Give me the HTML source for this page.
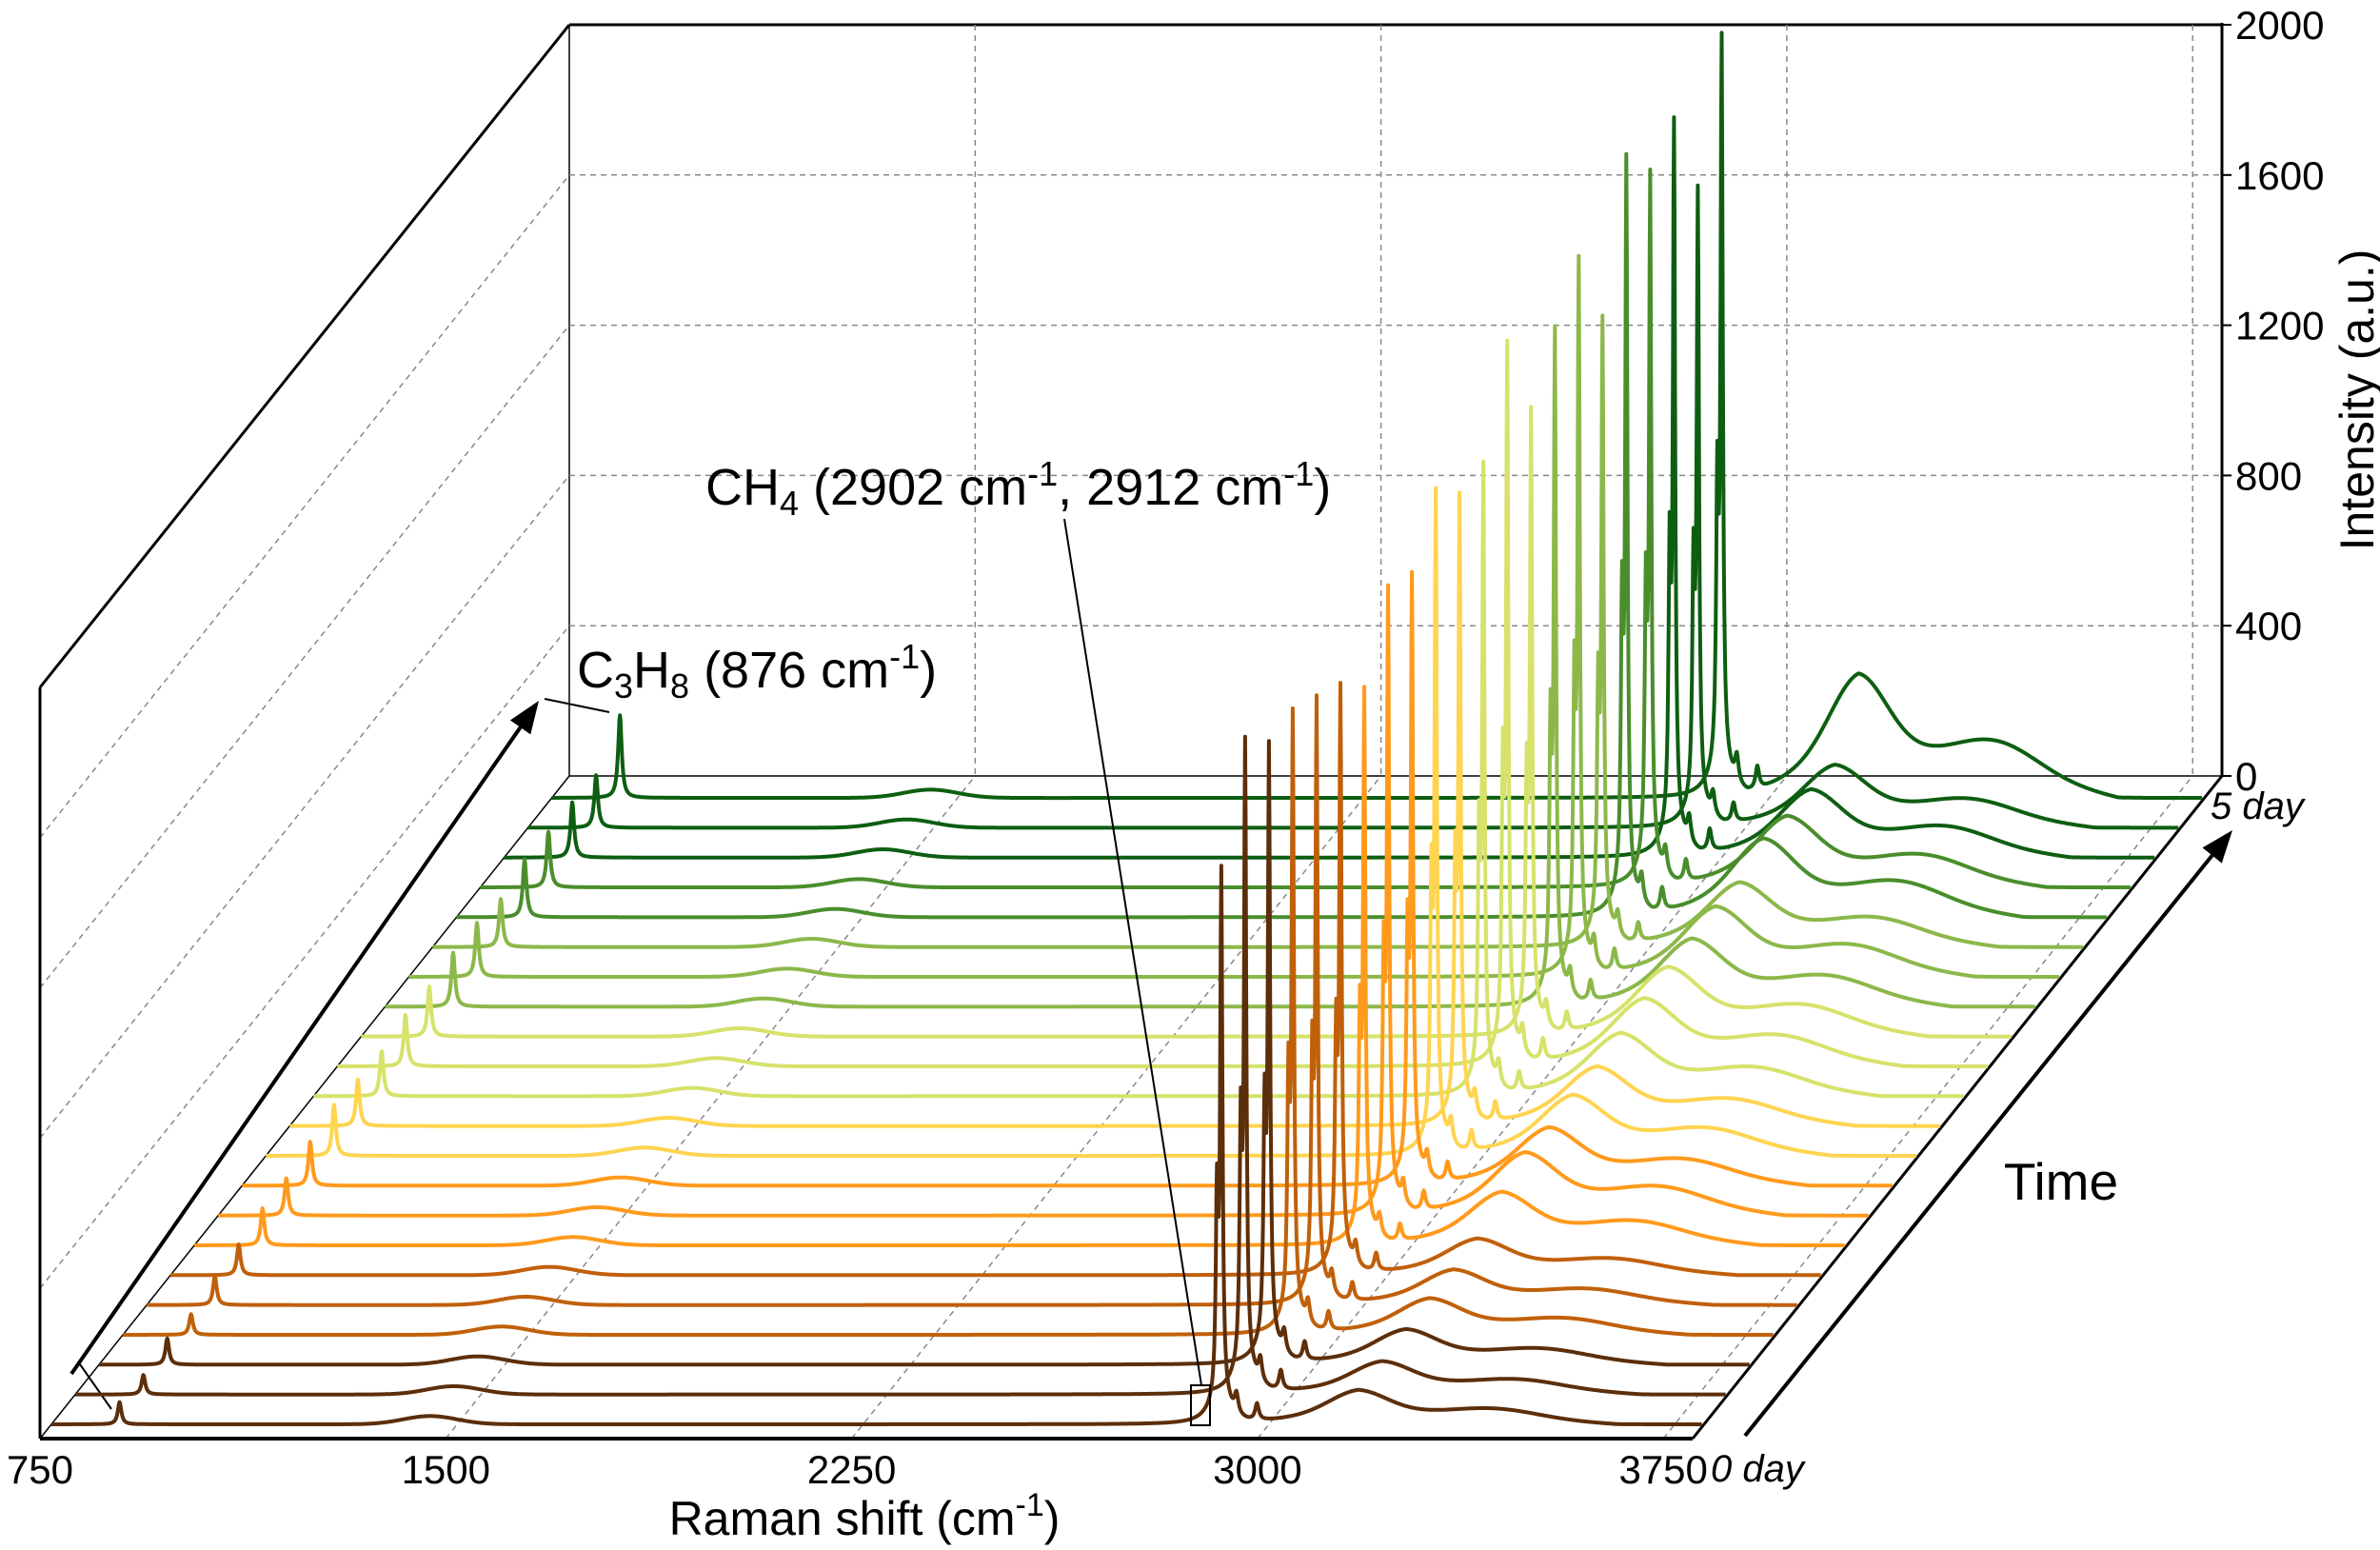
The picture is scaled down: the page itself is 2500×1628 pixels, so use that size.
<!DOCTYPE html>
<html><head><meta charset="utf-8"><style>
html,body{margin:0;padding:0;background:#fff;}
svg{display:block;font-family:"Liberation Sans",Arial,sans-serif;}
</style></head><body>
<svg id="chart" width="2500" height="1628" viewBox="0 0 2500 1628" xmlns="http://www.w3.org/2000/svg">
<g id="frame"></g>
<g id="traces"></g>
<g id="labels"></g>
</svg>
<script>
// ---- data ----
const xTicks = [750, 1500, 2250, 3000, 3750];
const yTicks = [0, 400, 800, 1200, 1600, 2000];
const ch4Heights = [1442,1698,1610,1617,1574,1529,1442,1627,1584,1724,1635,1638,1873,1625,1757,1861,1630,1970,1853,1911,1658,1975];
const c3h8Heights = [59,52,70,55,78,82,99,99,117,136,124,120,137,133,144,144,128,154,148,147,140,220];
const humpHeights = [91,88,94,97,94,97,142,168,155,162,158,168,181,185,181,187,172,209,190,181,167,330];
const traceColors = ['#5c2e0a','#5c2e0a','#5c2e0a','#c0600a','#c0600a','#c0600a','#ff9a1c','#ff9a1c','#ff9a1c','#ffd450','#ffd450','#d6e26a','#d6e26a','#d6e26a','#8cb84a','#8cb84a','#8cb84a','#4a8e2c','#4a8e2c','#0e5e12','#0e5e12','#0e5e12'];

// ---- geometry ----
const NS = 'http://www.w3.org/2000/svg';
const X0F = 42, Y0F = 1511, DXD = 556, DYD = -696, PXCM = 0.5684, PXI = 0.3945;
const BX0 = 598, BY0 = 815, AXR = 2334;
function baseline(i){ return 1496 - i * 31.33; }
function depthF(i){ return (Y0F - baseline(i)) / 696; }
function xOf(cm, i){ return X0F + depthF(i) * DXD + (cm - 750) * PXCM; }
function yOf(v, i){ return baseline(i) - v * PXI; }
function bx(cm){ return BX0 + (cm - 750) * PXCM; }
function by(v){ return BY0 - v * PXI; }
function mk(tag, attrs, parent){
  const e = document.createElementNS(NS, tag);
  for (const k in attrs) e.setAttribute(k, attrs[k]);
  parent.appendChild(e); return e;
}
const frame = document.getElementById('frame');
const traces = document.getElementById('traces');
const labels = document.getElementById('labels');
let el;

// back plane
el = mk('line',{x1:BX0,y1:by(2000),x2:AXR,y2:by(2000),stroke:'#000','stroke-width':3},frame);


el = mk('line',{x1:BX0,y1:by(2000),x2:BX0,y2:BY0,stroke:'#000','stroke-width':1.5},frame);


el = mk('line',{x1:BX0,y1:BY0,x2:AXR,y2:BY0,stroke:'#000','stroke-width':1.5},frame);


el = mk('line',{x1:AXR,y1:by(2000)-2,x2:AXR,y2:BY0,stroke:'#000','stroke-width':3},frame);


yTicks.forEach(function(v){
  if (v > 0 && v < 2000) {
    el = mk('line',{x1:BX0,y1:by(v),x2:AXR,y2:by(v),stroke:'#888','stroke-width':1.5,'stroke-dasharray':'6,5'},frame);
    
    
    el = mk('line',{x1:X0F,y1:Y0F - v*PXI,x2:BX0,y2:BY0 - v*PXI,stroke:'#888','stroke-width':1.5,'stroke-dasharray':'6,5'},frame);
    
    
  }
  el = mk('line',{x1:AXR,y1:by(v),x2:AXR+10,y2:by(v),stroke:'#000','stroke-width':2},frame);
  
  
  el = mk('text',{x:AXR+14,y:by(v)+15,'font-size':42,fill:'#000'},labels);
  el.textContent = v;
  
  
});
xTicks.forEach(function(c){
  if (c > 750) {
    el = mk('line',{x1:bx(c),y1:by(2000),x2:bx(c),y2:BY0,stroke:'#888','stroke-width':1.5,'stroke-dasharray':'6,5'},frame);
    
    
    el = mk('line',{x1:X0F+(c-750)*PXCM,y1:Y0F,x2:bx(c),y2:BY0,stroke:'#888','stroke-width':1.5,'stroke-dasharray':'6,5'},frame);
    
    
  }
  el = mk('text',{x:X0F+(c-750)*PXCM,y:1558,'font-size':42,'text-anchor':'middle',fill:'#000'},labels);
  el.textContent = c;
  
  
});
// left wall & floor
el = mk('line',{x1:X0F,y1:Y0F - 2000*PXI,x2:X0F,y2:Y0F,stroke:'#000','stroke-width':3},frame);


el = mk('line',{x1:X0F,y1:Y0F - 2000*PXI,x2:BX0,y2:by(2000),stroke:'#000','stroke-width':3},frame);


el = mk('line',{x1:X0F,y1:Y0F,x2:BX0,y2:BY0,stroke:'#000','stroke-width':1.5},frame);


el = mk('line',{x1:X0F,y1:Y0F,x2:1778,y2:Y0F,stroke:'#000','stroke-width':4},frame);


el = mk('line',{x1:1778,y1:Y0F,x2:AXR,y2:BY0,stroke:'#000','stroke-width':3},frame);



// traces (back to front)
for (let i = ch4Heights.length - 1; i >= 0; i--) {
  const H = ch4Heights[i], C = c3h8Heights[i], W = humpHeights[i];
  let d = '';
  for (let cm = 750; cm <= 3800; cm += 1) {
    let v = 0;
    v += C / (1 + Math.pow((cm - 876) / 4, 2));
    v += 22 * Math.exp(-Math.pow((cm - 1450) / 70, 2));
    v += 0.95 * H / (1 + Math.pow((cm - 2912) / 2.5, 2));
    v += 0.35 * H / (1 + Math.pow((cm - 2904) / 2.5, 2));
    v += 0.05 * H / (1 + Math.pow((cm - 2910) / 22, 2));
    v += 0.035 * H / (1 + Math.pow((cm - 2940) / 4, 2));
    v += 0.03 * H / (1 + Math.pow((cm - 2978) / 4, 2));
    const tri = Math.max(0, cm < 3165 ? (cm - 2960) / 205 : 1 - (cm - 3165) / 480);
    v += W * (0.55 * Math.exp(-Math.pow((cm - 3165) / 75, 2)) + 0.45 * tri);
    v += 0.25 * W * Math.exp(-Math.pow((cm - 3420) / 110, 2));
    d += (cm === 750 ? 'M' : 'L') + xOf(cm, i).toFixed(1) + ' ' + yOf(v, i).toFixed(1);
  }
  el = mk('path',{d:d,fill:'none',stroke:traceColors[i],'stroke-width':4,'stroke-linejoin':'round'},traces);
  
  
}

// arrows
function arrow(x1,y1,x2,y2,name){
  const g = mk('g',{},frame);
  
  
  const ang = Math.atan2(y2-y1, x2-x1), L = 34, Wd = 13;
  const bxp = x2 - L*Math.cos(ang), byp = y2 - L*Math.sin(ang);
  mk('line',{x1:x1,y1:y1,x2:bxp,y2:byp,stroke:'#000','stroke-width':4},g);
  const px = -Math.sin(ang)*Wd, py = Math.cos(ang)*Wd;
  mk('polygon',{points:x2+','+y2+' '+(bxp+px)+','+(byp+py)+' '+(bxp-px)+','+(byp-py),fill:'#000'},g);
}
arrow(75,1443,566,736,'left-time-arrow');
arrow(1833,1508,2345,872,'time-axis-arrow');
el = mk('line',{x1:84,y1:1433,x2:117,y2:1480,stroke:'#000','stroke-width':2},frame);



// annotations
el = mk('line',{x1:572,y1:734,x2:640,y2:748,stroke:'#000','stroke-width':2},labels);


el = mk('line',{x1:1118,y1:545,x2:1262,y2:1455,stroke:'#000','stroke-width':2},labels);


el = mk('rect',{x:1251,y:1455,width:20,height:42,fill:'none',stroke:'#000','stroke-width':2},labels);


</script>
<svg style="position:absolute;left:0;top:0" width="2500" height="1628" viewBox="0 0 2500 1628" xmlns="http://www.w3.org/2000/svg" font-family="Liberation Sans, Arial, sans-serif">
<text x="606" y="722" font-size="54">C<tspan font-size="36" dy="11">3</tspan><tspan dy="-11">H</tspan><tspan font-size="36" dy="11">8</tspan><tspan dy="-11"> (876 cm</tspan><tspan font-size="36" dy="-20">-1</tspan><tspan dy="20">)</tspan></text>
<text x="741" y="530" font-size="54">CH<tspan font-size="36" dy="11">4</tspan><tspan dy="-11"> (2902 cm</tspan><tspan font-size="36" dy="-20">-1</tspan><tspan dy="20">, 2912 cm</tspan><tspan font-size="36" dy="-20">-1</tspan><tspan dy="20">)</tspan></text>
<text x="908" y="1612" font-size="50" text-anchor="middle">Raman shift (cm<tspan font-size="34" dy="-20">-1</tspan><tspan dy="20">)</tspan></text>
<text transform="translate(2493,420) rotate(-90)" font-size="50" text-anchor="middle">Intensity (a.u.)</text>
<text x="2165" y="1260" font-size="55" text-anchor="middle">Time</text>
<text x="1797" y="1556" font-size="40" font-style="italic">0 day</text>
<text x="2322" y="860" font-size="40" font-style="italic">5 day</text>
</svg>
</body></html>
